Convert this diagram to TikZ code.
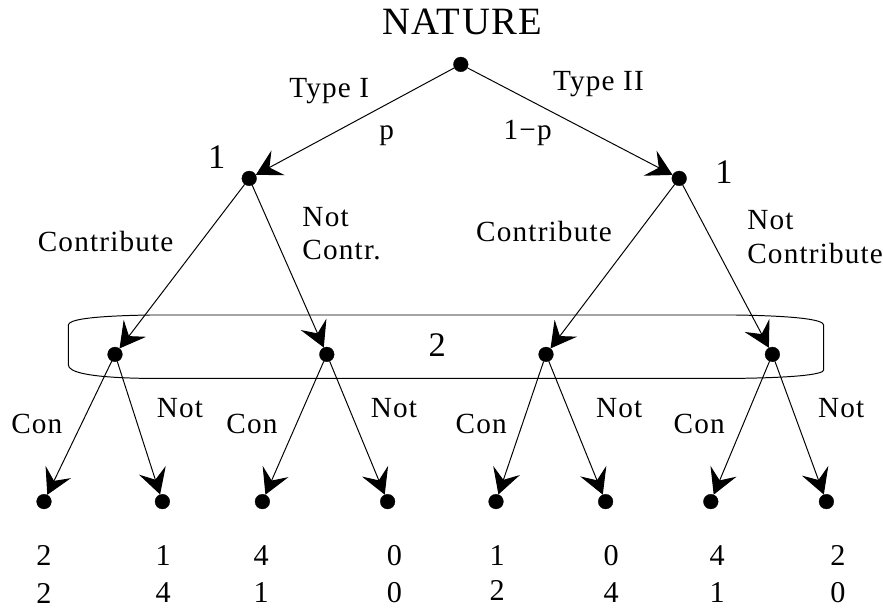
\documentclass[tikz,border=0pt]{standalone}
\usepackage{fontspec}
\setmainfont[LetterSpace=4]{Liberation Serif}
\usetikzlibrary{arrows.meta}

\begin{document}
\begin{tikzpicture}[
	vertex/.style={ circle, draw, very thin, fill, inner sep=0pt, minimum size=10.5pt },
	lbl/.style={ inner sep=0pt, anchor=base, font=\fontsize{20.8}{23.8}\selectfont },
	lbl2/.style={ inner sep=0pt, anchor=north west, align=left, font=\fontsize{20.8}{23.8}\selectfont },
	big/.style={ inner sep=0pt, anchor=base, font=\fontsize{24.5}{28}\selectfont },
	pay/.style={ inner sep=0pt, font=\fontsize{21.5}{24}\selectfont },
	>={Stealth[length=18pt,width=20pt,inset=7pt]},
	line width=0.7pt
]
\useasboundingbox (0,0) rectangle (22.075,15.2);

% player 2's information set
\draw (3.75,7.325) -- (18.4,7.325)
	.. controls (20.0,7.3) and (20.59,7.2) .. (20.59,7.075) -- (20.59,5.95)
	.. controls (20.59,5.85) and (20.0,5.76) .. (18.4,5.74) -- (3.67,5.74)
	.. controls (2.2,5.76) and (1.71,5.9) .. (1.71,6.075) -- (1.71,7.075)
	.. controls (1.71,7.2) and (2.2,7.3) .. (3.75,7.325);
\node at (10.93,6.28) (p2) [big] {2};

% nature
\node at (11.56,14.65) (nat) [inner sep=0pt,font=\fontsize{27.5}{30}\selectfont] {NATURE};
\node at (11.52,13.59) (r) [vertex] {};
\node at (6.23,10.74) (a) [vertex] {};
\node at (16.98,10.74) (b) [vertex] {};
\draw[->] (r) to (a);
\draw[->] (r) to (b);
\node at (8.23,12.76) (t1) [lbl] {Type I};
\node at (14.96,12.93) (t2) [lbl] {Type II};
\node at (9.67,11.70) (pr1) [lbl] {p};
\node at (13.19,11.70) (pr2) [lbl] {1−p};
\node at (5.42,10.98) (pa) [big] {1};
\node at (18.10,10.62) (pb) [big] {1};

% player 1
\node at (2.875,6.34) (a1) [vertex] {};
\node at (8.17,6.34) (a2) [vertex] {};
\node at (13.65,6.34) (b1) [vertex] {};
\node at (19.31,6.34) (b2) [vertex] {};
\draw[->] (a) to (a1);
\draw[->] (a) to (a2);
\draw[->] (b) to (b1);
\draw[->] (b) to (b2);
\node at (2.64,8.91) (ca) [lbl] {Contribute};
\node at (7.55,10.03) (na) [lbl2] {Not\\Contr.};
\node at (13.60,9.16) (cb) [lbl] {Contribute};
\node at (18.67,9.95) (nb) [lbl2] {Not\\Contribute};

% player 2
\node at (1.10,2.66) (e1) [vertex] {};
\node at (4.06,2.66) (e2) [vertex] {};
\node at (6.56,2.66) (e3) [vertex] {};
\node at (9.69,2.66) (e4) [vertex] {};
\node at (12.40,2.66) (e5) [vertex] {};
\node at (15.14,2.66) (e6) [vertex] {};
\node at (17.77,2.66) (e7) [vertex] {};
\node at (20.66,2.66) (e8) [vertex] {};
\draw[->] (a1) to (e1);
\draw[->] (a1) to (e2);
\draw[->] (a2) to (e3);
\draw[->] (a2) to (e4);
\draw[->] (b1) to (e5);
\draw[->] (b1) to (e6);
\draw[->] (b2) to (e7);
\draw[->] (b2) to (e8);
\node at (0.92,4.37) (c1) [lbl] {Con};
\node at (4.50,4.77) (n1) [lbl] {Not};
\node at (6.30,4.37) (c2) [lbl] {Con};
\node at (9.85,4.77) (n2) [lbl] {Not};
\node at (12.03,4.37) (c3) [lbl] {Con};
\node at (15.48,4.77) (n3) [lbl] {Not};
\node at (17.48,4.37) (c4) [lbl] {Con};
\node at (21.03,4.77) (n4) [lbl] {Not};

% payoffs
\node at (1.10,1.31) (u1) [pay] {2};
\node at (4.08,1.31) (u2) [pay] {1};
\node at (6.53,1.31) (u3) [pay] {4};
\node at (9.86,1.31) (u4) [pay] {0};
\node at (12.43,1.31) (u5) [pay] {1};
\node at (15.28,1.31) (u6) [pay] {0};
\node at (17.93,1.31) (u7) [pay] {4};
\node at (20.95,1.31) (u8) [pay] {2};
\node at (1.10,0.375) (v1) [pay] {2};
\node at (4.08,0.375) (v2) [pay] {4};
\node at (6.53,0.375) (v3) [pay] {1};
\node at (9.86,0.375) (v4) [pay] {0};
\node at (12.43,0.45) (v5) [pay] {2};
\node at (15.28,0.375) (v6) [pay] {4};
\node at (17.93,0.375) (v7) [pay] {1};
\node at (20.95,0.375) (v8) [pay] {0};

\end{tikzpicture}
\end{document}
